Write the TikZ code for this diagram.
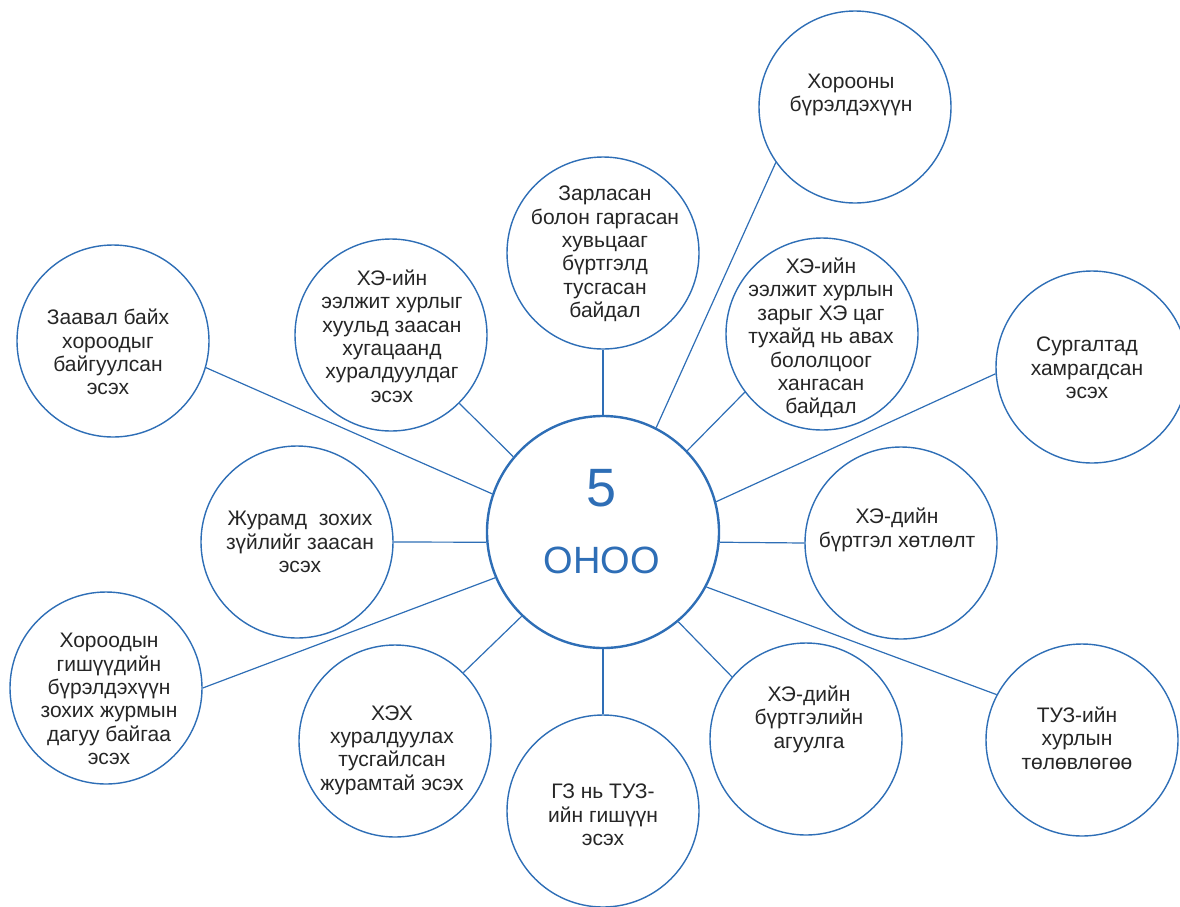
\documentclass[tikz,border=0pt]{standalone}
\usepackage{fontspec}
\setmainfont{Liberation Sans}
\definecolor{ringblue}{RGB}{46,110,182}
\definecolor{inkgray}{RGB}{38,38,38}
\tikzset{
  hub/.style={circle, draw=ringblue, line width=2.4pt, fill=white, minimum size=232pt, inner sep=0pt},
  topic/.style={circle, draw=ringblue, line width=1.4pt, fill=white, minimum size=192pt, inner sep=0pt},
  caption/.style={text=inkgray, align=center, inner sep=0pt, font=\fontsize{21}{23.4}\selectfont},
  spoke/.style={draw=ringblue, line width=1.2pt},
  score/.style={text=ringblue, inner sep=0pt}
}
\begin{document}
\begin{tikzpicture}[x=1pt, y=-1pt]
\useasboundingbox (0,0) rectangle (1180,906);

% circles
\node[hub] (C) at (603,532) {};
\node[topic] (K) at (855,107) {};
\node[topic] (Z) at (603,253) {};
\node[topic] (H) at (822,334) {};
\node[topic] (S) at (1092,367) {};
\node[topic] (A) at (113,341) {};
\node[topic] (B) at (391,335) {};
\node[topic] (J) at (297,542) {};
\node[topic] (D) at (901,543) {};
\node[topic] (F) at (106,688) {};
\node[topic] (X) at (395,741) {};
\node[topic] (G) at (603,811) {};
\node[topic] (E) at (806,739) {};
\node[topic] (T) at (1082,740) {};

% spokes from the hub
\draw[spoke] (C.63) -- (K.215);
\draw[spoke] (C.north) -- (Z.south);
\draw[spoke] (C.44) -- (H.217);
\draw[spoke] (C.15) -- (S.184);
\draw[spoke] (C.161) -- (A.344);
\draw[spoke] (C.140) -- (B.315);
\draw[spoke] (C.185) -- (J.east);
\draw[spoke] (C.355) -- (D.west);
\draw[spoke] (C.203.5) -- (F.east);
\draw[spoke] (C.226) -- (X.45);
\draw[spoke] (C.south) -- (G.north);
\draw[spoke] (C.310) -- (E.140);
\draw[spoke] (C.332) -- (T.152);

% hub text
\node[score, font=\fontsize{54}{60}\selectfont] (five) at (602,488) {5};
\node[score, font=\fontsize{38}{44}\selectfont] (onoo) at (602,560) {ОНОО};

% topic texts
\node[caption] (tK) at (851,95) {Хорооны\\бүрэлдэхүүн};
\node[caption] (tZ) at (605,254) {Зарласан\\болон гаргасан\\хувьцааг\\бүртгэлд\\тусгасан\\байдал};
\node[caption] (tH) at (821,338) {ХЭ-ийн\\ээлжит хурлын\\зарыг ХЭ цаг\\тухайд нь авах\\бололцоог\\хангасан\\байдал};
\node[caption] (tS) at (1087,368) {Сургалтад\\хамрагдсан\\эсэх};
\node[caption] (tA) at (108,352) {Заавал байх\\хороодыг\\байгуулсан\\эсэх};
\node[caption] (tB) at (392,336) {ХЭ-ийн\\ээлжит хурлыг\\хуульд заасан\\хугацаанд\\хуралдуулдаг\\эсэх};
\node[caption] (tJ) at (300,542) {Журамд\ \ зохих\\зүйлийг заасан\\эсэх};
\node[caption] (tD) at (897,530) {ХЭ-дийн\\бүртгэл хөтлөлт};
\node[caption] (tF) at (109,699) {Хороодын\\гишүүдийн\\бүрэлдэхүүн\\зохих журмын\\дагуу байгаа\\эсэх};
\node[caption] (tX) at (392,750) {ХЭХ\\хуралдуулах\\тусгайлсан\\журамтай эсэх};
\node[caption] (tG) at (603,815) {ГЗ нь ТУЗ-\\ийн гишүүн\\эсэх};
\node[caption] (tE) at (809,719) {ХЭ-дийн\\бүртгэлийн\\агуулга};
\node[caption] (tT) at (1077,738) {ТУЗ-ийн\\хурлын\\төлөвлөгөө};
\end{tikzpicture}
\end{document}
